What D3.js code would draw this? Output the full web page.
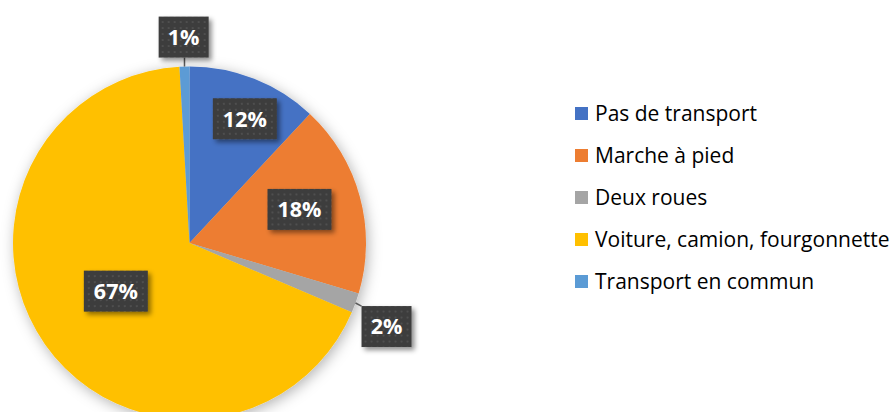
<!DOCTYPE html>
<html>
<head>
<meta charset="utf-8">
<script src="https://cdn.jsdelivr.net/npm/d3@7"></script>
<style>
  body { margin: 0; background: #fff; }
  svg { display: block; }
</style>
</head>
<body>
<script>
// données du graphique
const categories = ["Pas de transport", "Marche à pied", "Deux roues", "Voiture, camion, fourgonnette", "Transport en commun"];
const values = [11.9, 17.6, 1.8, 67.4, 0.9];
const colors = ["#4472C4", "#ED7D31", "#A5A5A5", "#FFC000", "#5B9BD5"];

function drawPie() {
	const width = 893, height = 412;
	const cx = 189.5, cy = 243, radius = 176.5;

	// placement des étiquettes (rayon, décalage d'angle en degrés)
	const labelRadius = [136, 115, 214, 88, 206];
	const labelShift = [2.5, -1.8, 3.1, 1.9, 0];

	const svg = d3.select("body").append("svg")
		.attr("width", width)
		.attr("height", height);

	const defs = svg.append("defs");

	// ombre douce autour du camembert
	defs.append("filter").attr("id", "pieShadow")
		.attr("x", "-20%").attr("y", "-20%").attr("width", "140%").attr("height", "140%")
		.append("feDropShadow")
		.attr("dx", 2).attr("dy", 3).attr("stdDeviation", 7)
		.attr("flood-color", "#000").attr("flood-opacity", 0.3);

	defs.append("filter").attr("id", "boxShadow")
		.attr("x", "-30%").attr("y", "-30%").attr("width", "170%").attr("height", "170%")
		.append("feDropShadow")
		.attr("dx", 3).attr("dy", 3).attr("stdDeviation", 2.5)
		.attr("flood-color", "#000").attr("flood-opacity", 0.45);

	// motif pointillé du fond des étiquettes
	const pat = defs.append("pattern").attr("id", "dots")
		.attr("width", 6).attr("height", 6)
		.attr("patternUnits", "userSpaceOnUse");
	pat.append("rect").attr("width", 6).attr("height", 6).attr("fill", "#3c3c3c");
	pat.append("rect").attr("x", 2).attr("y", 2).attr("width", 2).attr("height", 2).attr("fill", "#4f4f4f");

	const pie = d3.pie().sort(null).value((d) => d);
	const arcs = pie(values);
	const arc = d3.arc().innerRadius(0).outerRadius(radius);

	const g = svg.append("g").attr("transform", "translate(" + cx + "," + cy + ")");

	g.append("g").attr("filter", "url(#pieShadow)")
		.selectAll("path")
		.data(arcs)
		.enter()
		.append("path")
		.attr("d", arc)
		.attr("fill", (d, i) => colors[i]);

	const fmt = (v) => Math.round(v) + "%";

	const labels = arcs.map((d, i) => {
		const a = (d.startAngle + d.endAngle) / 2;
		const la = a + labelShift[i] * Math.PI / 180;
		const r = labelRadius[i];
		const text = fmt(d.data);
		const w = text.length > 2 ? 64 : 50;
		return {
			i: i, mid: a, text: text, w: w, h: 41,
			x: r * Math.sin(la), y: -r * Math.cos(la),
			outside: r > radius
		};
	});

	// lignes de rappel pour les étiquettes extérieures
	labels.filter((l) => l.outside).forEach((l) => {
		const ex = radius * Math.sin(l.mid), ey = -radius * Math.cos(l.mid);
		const bx = Math.max(l.x - l.w / 2, Math.min(ex, l.x + l.w / 2));
		const by = Math.max(l.y - l.h / 2, Math.min(ey, l.y + l.h / 2));
		g.append("line")
			.attr("x1", ex).attr("y1", ey)
			.attr("x2", bx).attr("y2", by)
			.attr("stroke", "#595959").attr("stroke-width", 1.5);
	});

	const lab = g.selectAll("g.label")
		.data(labels)
		.enter()
		.append("g")
		.attr("class", "label")
		.attr("transform", (d) => "translate(" + d.x + "," + d.y + ")");

	lab.append("rect")
		.attr("x", (d) => -d.w / 2).attr("y", (d) => -d.h / 2)
		.attr("width", (d) => d.w).attr("height", (d) => d.h)
		.attr("fill", "url(#dots)")
		.attr("filter", "url(#boxShadow)");

	lab.append("text")
		.attr("text-anchor", "middle")
		.attr("dy", "0.36em")
		.attr("fill", "#fff")
		.style("font-family", "'Open Sans', sans-serif")
		.style("font-weight", "bold")
		.style("font-size", "21.5px")
		.text((d) => d.text);

	// légende
	const legY = d3.scaleBand().domain(categories).range([92, 302]);
	const leg = svg.append("g").selectAll("g")
		.data(categories)
		.enter()
		.append("g")
		.attr("transform", (d) => "translate(575," + (legY(d) + legY.bandwidth() / 2) + ")");

	leg.append("rect")
		.attr("x", 0).attr("y", -6)
		.attr("width", 13).attr("height", 13)
		.attr("fill", (d, i) => colors[i]);

	leg.append("text")
		.attr("x", 20)
		.attr("dy", "0.36em")
		.attr("fill", "#000")
		.style("font-family", "'Open Sans', sans-serif")
		.style("font-size", "21px")
		.text((d) => d);
}

window.addEventListener("load", drawPie);
</script>
</body>
</html>
